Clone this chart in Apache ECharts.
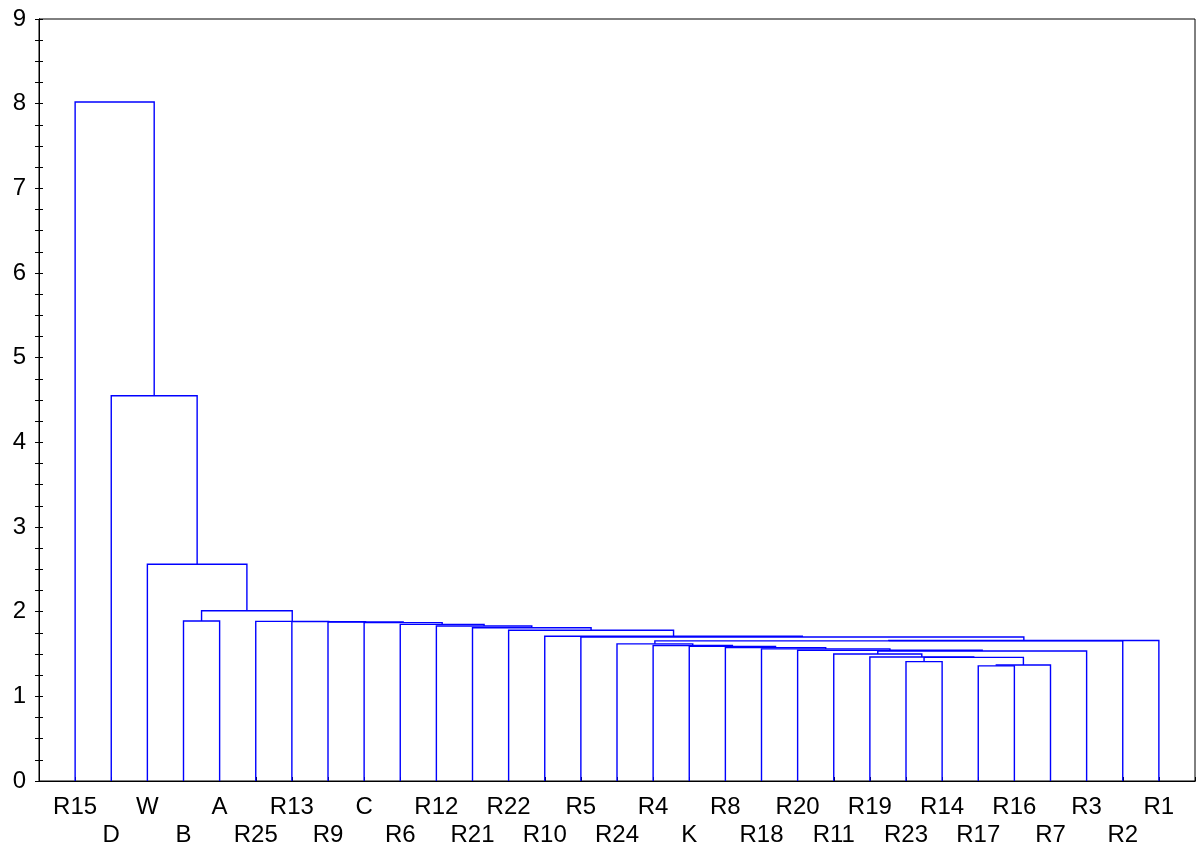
<!DOCTYPE html>
<html><head><meta charset="utf-8">
<script src="https://cdn.jsdelivr.net/npm/echarts@6/dist/echarts.min.js"></script>
<style>html,body{margin:0;padding:0;background:#fff}#c{width:1198px;height:849px}</style>
</head><body><div id="c"></div>
<script>
// Leaves in dendrogram order (left to right)
const leaves = ['R15','D','W','B','A','R25','R13','R9','C','R6','R12','R21','R22','R10','R5','R24','R4','K','R8','R18','R20','R11','R19','R23','R14','R17','R16','R7','R3','R2','R1'];
// Merges, bottom-up: cluster cN joins mergeLeft[N] and mergeRight[N] at mergeHeights[N]
const mergeLeft  = ['R17','c0','R23','c2','R19','R11','c5','R20','R18','R8','K','R4','R24','c12','c13','R5','R10','R22','R21','R12','R6','C','R9','R13','R25','B','c25','W','D','R15'];
const mergeRight = ['R16','R7','R14','c1','c3','c4','R3','c6','c7','c8','c9','c10','c11','R2','R1','c14','c15','c16','c17','c18','c19','c20','c21','c22','c23','A','c24','c26','c27','c28'];
const mergeHeights = [1.36,1.37,1.41,1.46,1.465,1.50,1.535,1.545,1.56,1.575,1.59,1.60,1.62,1.655,1.66,1.70,1.71,1.78,1.81,1.83,1.85,1.87,1.878,1.882,1.885,1.89,2.01,2.56,4.55,8.02];
const yTickValues = [0,1,2,3,4,5,6,7,8,9];

const FONT = '"Liberation Sans", Arial, sans-serif';

const clusterPos = [];
function nodeInfo(ref) {
  if (leaves.indexOf(ref) < 0) {
    const k = +ref.slice(1);
    return [clusterPos[k], mergeHeights[k]];
  }
  return [leaves.indexOf(ref) + 1, 0];
}
const segs = [];
for (let k = 0; k < mergeHeights.length; k++) {
  const a = nodeInfo(mergeLeft[k]);
  const b = nodeInfo(mergeRight[k]);
  clusterPos[k] = (a[0] + b[0]) / 2;
  segs.push([a[0], a[1], b[0], b[1], mergeHeights[k]]);
}

const chart = echarts.init(document.getElementById('c'), null, {renderer: 'canvas'});
const axisLineStyle = {color: '#000', width: 1};
chart.setOption({
  animation: false,
  backgroundColor: '#fff',
  grid: {left: 39, right: 1, top: 19, bottom: 68, show: true, borderColor: '#000', borderWidth: 1},
  xAxis: [{
    type: 'value', min: 0, max: leaves.length + 1, interval: 1, position: 'bottom',
    axisLine: {show: true, lineStyle: axisLineStyle},
    axisTick: {show: true, inside: true, length: 4, lineStyle: axisLineStyle},
    splitLine: {show: false},
    axisLabel: {
      show: true, margin: 12, fontSize: 24, fontFamily: FONT, color: '#000', lineHeight: 28,
      showMinLabel: true, showMaxLabel: true,
      formatter: function (v) {
        const i = Math.round(v);
        if (i < 1 || i > leaves.length) return '';
        return (i % 2 === 1) ? leaves[i - 1] : '\n' + leaves[i - 1];
      }
    }
  }, {
    type: 'value', min: 0, max: leaves.length + 1, position: 'top',
    axisLine: {show: true, lineStyle: axisLineStyle},
    axisTick: {show: false}, axisLabel: {show: false}, splitLine: {show: false}
  }],
  yAxis: [{
    type: 'value', min: yTickValues[0], max: yTickValues[yTickValues.length - 1], interval: 1, position: 'left',
    axisLine: {show: true, lineStyle: axisLineStyle},
    axisTick: {show: true, inside: true, length: 4, lineStyle: axisLineStyle},
    minorTick: {show: true, inside: true, splitNumber: 4, length: 4, lineStyle: axisLineStyle},
    splitLine: {show: false},
    axisLabel: {margin: 13, fontSize: 24, fontFamily: FONT, color: '#000'}
  }, {
    type: 'value', min: yTickValues[0], max: yTickValues[yTickValues.length - 1], interval: 1, position: 'right',
    axisLine: {show: true, lineStyle: axisLineStyle},
    axisTick: {show: true, inside: true, length: 4, lineStyle: axisLineStyle},
    minorTick: {show: true, inside: true, splitNumber: 4, length: 4, lineStyle: axisLineStyle},
    splitLine: {show: false},
    axisLabel: {show: false}
  }],
  series: [{
    type: 'custom',
    xAxisIndex: 0, yAxisIndex: 0,
    silent: true,
    clip: false,
    data: segs,
    encode: {x: [0, 2], y: [1, 3, 4]},
    renderItem: function (params, api) {
      const lx = api.value(0), lh = api.value(1), rx = api.value(2), rh = api.value(3), h = api.value(4);
      const pts = [api.coord([lx, lh]), api.coord([lx, h]), api.coord([rx, h]), api.coord([rx, rh])];
      return {
        type: 'polyline',
        shape: {points: pts},
        style: {stroke: '#0000ff', lineWidth: 1.4, fill: null}
      };
    }
  }]
});
</script>
</body></html>
